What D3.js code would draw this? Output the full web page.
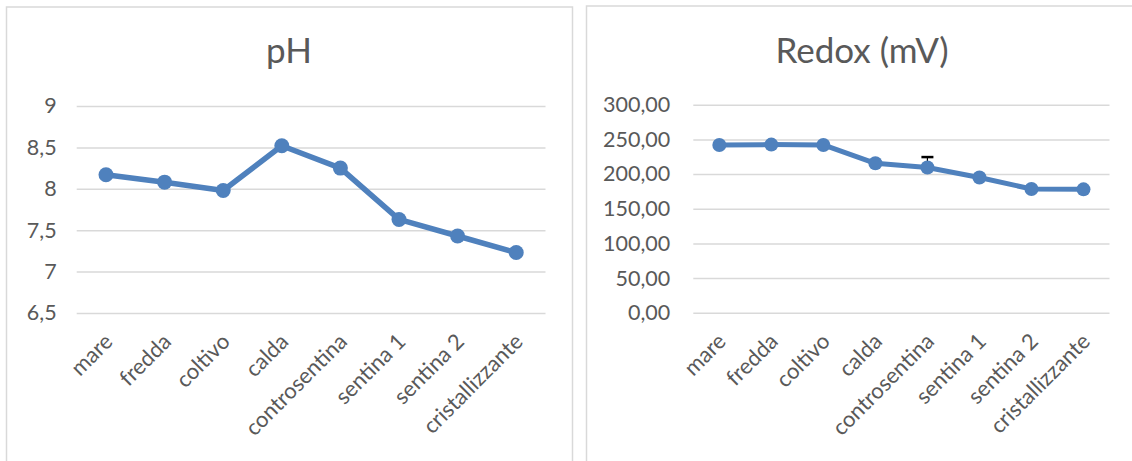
<!DOCTYPE html>
<html>
<head>
<meta charset="utf-8">
<script src="https://cdn.jsdelivr.net/npm/d3@7"></script>
<style>
  html, body { margin: 0; padding: 0; background: #ffffff; }
  svg { display: block; }
  text { font-family: Lato, "Open Sans", sans-serif; fill: #595959; }
</style>
</head>
<body>
<svg id="chart" width="1132" height="461"></svg>
<script>
// ---- data ----
const categories = ["mare", "fredda", "coltivo", "calda", "controsentina", "sentina 1", "sentina 2", "cristallizzante"];
const phValues = [8.17, 8.08, 7.98, 8.52, 8.25, 7.63, 7.43, 7.23];
const phTicks = [6.5, 7, 7.5, 8, 8.5, 9];
const redoxValues = [242, 242.5, 242, 215.5, 209.5, 195, 178.5, 178];
const redoxErrors = [1, 1, 1, 1, 15, 1, 1, 1];
const redoxTicks = [0, 50, 100, 150, 200, 250, 300];
const titles = ["pH", "Redox (mV)"];

const svg = d3.select("#chart");
const lineColor = "#4F81BD";
const gridColor = "#d9d9d9";

function fmtComma(d, decimals) {
  if (decimals === null) return String(d).replace(".", ",");
  return d.toFixed(decimals).replace(".", ",");
}

function drawChart(cfg) {
  const g = svg.append("g");
  g.append("rect")
    .attr("x", cfg.panel[0]).attr("y", cfg.panel[1])
    .attr("width", cfg.panel[2]).attr("height", cfg.panel[3])
    .attr("fill", "#fff").attr("stroke", gridColor).attr("stroke-width", 1.5);

  const x = d3.scaleBand().domain(categories).range(cfg.xRange).paddingInner(0).paddingOuter(0);
  const y = d3.scaleLinear().domain(cfg.yDomain).range(cfg.yRange);

  g.append("text")
    .attr("x", cfg.titleX).attr("y", cfg.titleY)
    .attr("text-anchor", "middle")
    .style("font-size", cfg.titleSize + "px")
    .text(cfg.title);

  const yAxis = d3.axisLeft(y).tickValues(cfg.ticks)
    .tickSize(-(cfg.xRange[1] - cfg.xRange[0]))
    .tickPadding(cfg.tickPad)
    .tickFormat(d => fmtComma(d, cfg.decimals));
  const ya = g.append("g").attr("transform", `translate(${cfg.xRange[0]},0)`).call(yAxis);
  ya.select(".domain").remove();
  ya.selectAll(".tick line").attr("stroke", gridColor).attr("stroke-width", 1.5);
  ya.selectAll(".tick text").style("font-size", cfg.tickFont + "px").attr("fill", "#595959")
    .style("font-family", "Lato, 'Open Sans', sans-serif");

  const xAxis = d3.axisBottom(x).tickSize(0).tickPadding(0);
  const xa = g.append("g").attr("transform", `translate(0,${cfg.yRange[0]})`).call(xAxis);
  xa.select(".domain").remove();
  xa.selectAll(".tick text")
    .style("font-size", cfg.catFont + "px").attr("fill", "#595959")
    .style("font-family", "Lato, 'Open Sans', sans-serif")
    .attr("text-anchor", "end")
    .attr("dy", 0)
    .attr("transform", `translate(${cfg.labelDx},${cfg.labelDy}) rotate(-45)`)
    .attr("y", 0).attr("x", 0);

  const cx = d => x(d) + x.bandwidth() / 2;
  const data = categories.map((c, i) => ({ c, v: cfg.values[i], e: cfg.errors ? cfg.errors[i] : 0 }));

  if (cfg.errors) {
    const eg = g.append("g");
    eg.selectAll("line.err").data(data).enter().append("line")
      .attr("x1", d => cx(d.c)).attr("x2", d => cx(d.c))
      .attr("y1", d => y(d.v)).attr("y2", d => y(d.v + d.e))
      .attr("stroke", "#000").attr("stroke-width", 1.2);
    eg.selectAll("line.cap").data(data).enter().append("line")
      .attr("x1", d => cx(d.c) - 6).attr("x2", d => cx(d.c) + 6)
      .attr("y1", d => y(d.v + d.e)).attr("y2", d => y(d.v + d.e))
      .attr("stroke", "#000").attr("stroke-width", 2.5);
  }

  const line = d3.line().x(d => cx(d.c)).y(d => y(d.v));
  g.append("path").datum(data).attr("d", line)
    .attr("fill", "none").attr("stroke", lineColor)
    .attr("stroke-width", cfg.lineWidth).attr("stroke-linejoin", "round");

  g.selectAll("circle").data(data).enter().append("circle")
    .attr("cx", d => cx(d.c)).attr("cy", d => y(d.v))
    .attr("r", cfg.r).attr("fill", lineColor);
}

drawChart({
  panel: [6.5, 7, 566, 470],
  xRange: [76.7, 545.5], yDomain: [6.5, 9], yRange: [313, 106],
  ticks: phTicks, decimals: null, values: phValues, errors: null,
  title: titles[0], titleX: 289, titleY: 63, titleSize: 35,
  tickFont: 21.5, catFont: 22, tickPad: 20, labelDx: 8, labelDy: 30,
  lineWidth: 5.5, r: 7.5
});

drawChart({
  panel: [586.5, 6, 600, 470],
  xRange: [693.3, 1109.5], yDomain: [0, 300], yRange: [312.8, 104.7],
  ticks: redoxTicks, decimals: 2, values: redoxValues, errors: redoxErrors,
  title: titles[1], titleX: 862, titleY: 63, titleSize: 35,
  tickFont: 21.5, catFont: 22, tickPad: 23, labelDx: 8, labelDy: 30,
  lineWidth: 5, r: 7
});
</script>
</body>
</html>
